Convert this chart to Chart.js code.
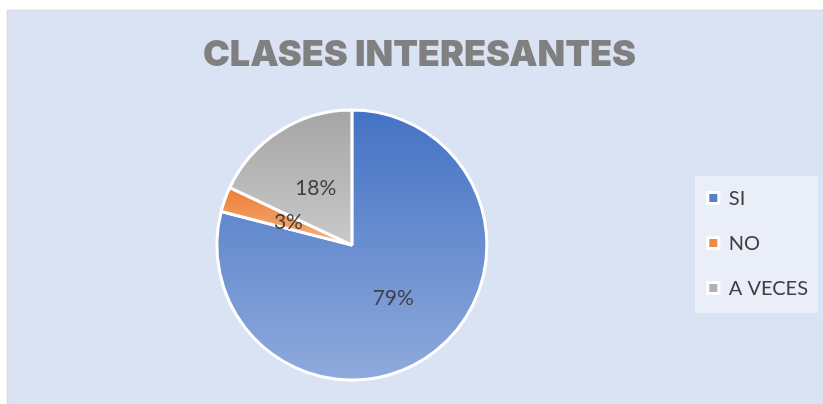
<!DOCTYPE html>
<html>
<head>
<meta charset="utf-8">
<script src="https://cdn.jsdelivr.net/npm/chart.js@4"></script>
<style>
  html, body { margin: 0; padding: 0; background: #fff; }
  #wrap { width: 823px; height: 404px; position: relative; }
</style>
</head>
<body>
<div id="wrap"><canvas id="pie"></canvas></div>
<script>
const categories = ['SI', 'NO', 'A VECES'];
const values = [79, 3, 18];
const topColors = ['#4472c4', '#ed7d31', '#a5a5a5'];
const bottomColors = ['#8faadc', '#f4b183', '#c9c9c9'];
const legendColors = ['#5a80cc', '#ef8a48', '#b2b2b2'];

const PIE_RADIUS = 135;

// vertical extent of a slice, so each slice gets its own top-to-bottom gradient
function sliceYRange(i, cy, r) {
  const total = values.reduce((a, b) => a + b, 0);
  let start = 0;
  for (let k = 0; k < i; k++) start += values[k] / total * Math.PI * 2;
  const end = start + values[i] / total * Math.PI * 2;
  // angle measured clockwise from 12 o'clock; y = cy - r*cos(a)
  const ys = [cy, cy - r * Math.cos(start), cy - r * Math.cos(end)];
  if (start <= 0 && end >= 0) ys.push(cy - r);
  if (start <= Math.PI && end >= Math.PI) ys.push(cy + r);
  if (start <= 2 * Math.PI && end >= 2 * Math.PI) ys.push(cy - r);
  return [Math.min(...ys), Math.max(...ys)];
}

function sliceFill(context) {
  const chart = context.chart;
  const area = chart.chartArea;
  const i = context.dataIndex;
  if (!area) return topColors[i];
  const cy = (area.top + area.bottom) / 2;
  const [y0, y1] = sliceYRange(i, cy, PIE_RADIUS);
  const g = chart.ctx.createLinearGradient(0, y0, 0, y1);
  g.addColorStop(0, topColors[i]);
  g.addColorStop(1, bottomColors[i]);
  return g;
}

const backdrop = {
  id: 'backdrop',
  beforeDraw(chart) {
    const ctx = chart.ctx;
    const w = chart.width, h = chart.height;
    ctx.save();
    ctx.fillStyle = '#fff';
    ctx.fillRect(0, 0, w, h);
    ctx.fillStyle = '#dae3f3';
    ctx.fillRect(8, 10, w - 8, h - 10);
    ctx.strokeStyle = '#d9d9d9';
    ctx.lineWidth = 1.5;
    ctx.beginPath();
    ctx.moveTo(7.5, h); ctx.lineTo(7.5, 10.5); ctx.lineTo(w, 10.5);
    ctx.stroke();
    // legend panel
    ctx.fillStyle = '#e9eef8';
    ctx.fillRect(695, 176, 123, 137);
    ctx.restore();
  }
};

const sliceLabels = {
  id: 'sliceLabels',
  afterDatasetsDraw(chart) {
    const ctx = chart.ctx;
    const meta = chart.getDatasetMeta(0);
    ctx.save();
    ctx.font = "21px Lato, 'Noto Sans', sans-serif";
    ctx.fillStyle = '#404040';
    ctx.textAlign = 'center';
    ctx.textBaseline = 'middle';
    meta.data.forEach((arc, i) => {
      const p = arc.tooltipPosition();
      ctx.fillText(values[i] + '%', p.x, p.y);
    });
    ctx.restore();
  }
};

new Chart(document.getElementById('pie'), {
  type: 'pie',
  data: {
    labels: categories,
    datasets: [{
      data: values,
      backgroundColor: sliceFill,
      borderColor: '#ffffff',
      borderWidth: 3,
      radius: PIE_RADIUS
    }]
  },
  options: {
    responsive: true,
    maintainAspectRatio: false,
    animation: false,
    layout: { padding: { left: 21, right: 5, top: 0, bottom: 24 } },
    plugins: {
      title: {
        display: true,
        text: 'CLASES INTERESANTES',
        color: '#808080',
        font: { family: 'Inter', size: 36, weight: 900 },
        padding: { top: 34, bottom: 33 }
      },
      legend: {
        position: 'right',
        // empty title only used to push the items down beside the pie
        title: { display: true, text: '', font: { size: 1 }, padding: { top: 105, bottom: 0 } },
        labels: {
          color: '#404040',
          font: { family: 'Lato', size: 20 },
          boxWidth: 11,
          boxHeight: 11,
          padding: 25,
          generateLabels: (chart) => categories.map((c, i) => ({
            text: c,
            fillStyle: legendColors[i],
            strokeStyle: '#ffffff',
            lineWidth: 3,
            fontColor: '#404040',
            index: i
          }))
        }
      },
      tooltip: { enabled: false }
    }
  },
  plugins: [backdrop, sliceLabels]
});
</script>
</body>
</html>
